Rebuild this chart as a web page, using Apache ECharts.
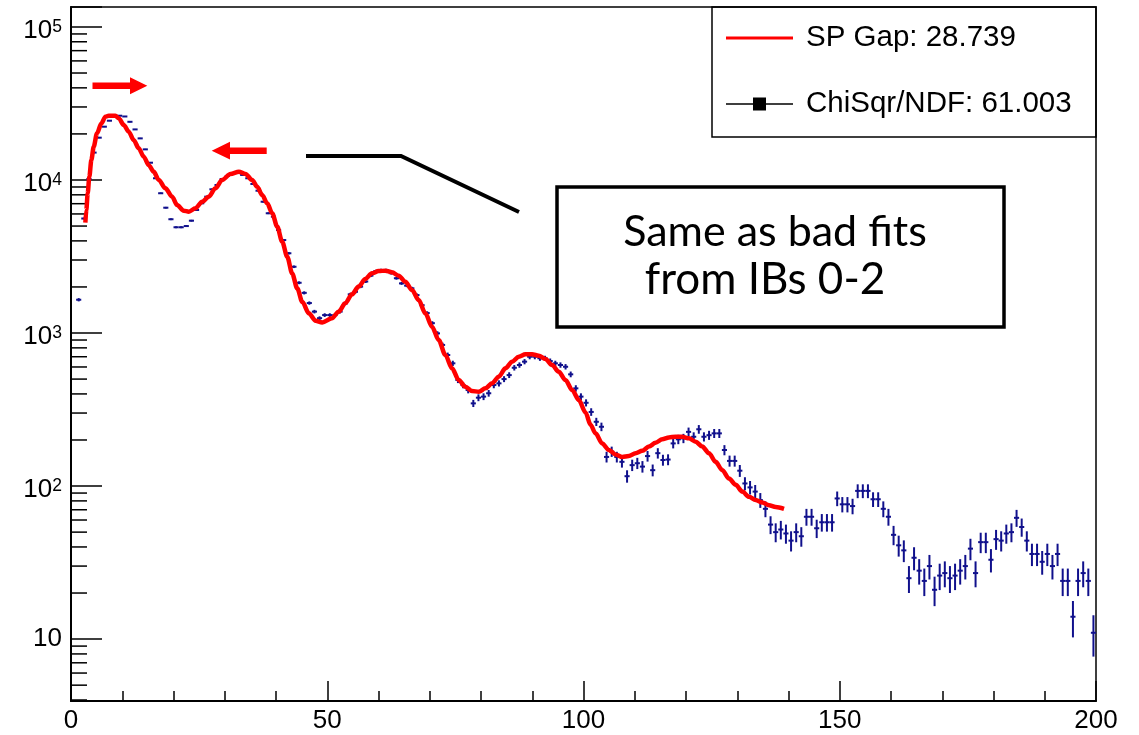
<!DOCTYPE html>
<html>
<head>
<meta charset="utf-8">
<script src="https://cdn.jsdelivr.net/npm/echarts@6/dist/echarts.min.js"></script>
<style>
  html, body { margin: 0; padding: 0; background: #fff; }
  #chart { width: 1139px; height: 735px; }
</style>
</head>
<body>
<div id="chart"></div>
<script>
// Histogram contents, one value per unit-wide bin starting at x = 0 (null = empty bin)
const binCounts = [
  null, 1650, 5600, 10150, 15100, 18900, 22300, 24400, 25800, 26300,
  26000, 24000, 21400, 18700, 15850, 12970, 10260, 8190, 6590, 5540,
  4910, 4910, 5000, 5420, 6370, 7040, 7780, 8690, 9270, 10150,
  10620, 11060, 11100, 10790, 10260, 9420, 8510, 7210, 6060, 5760,
  4710, 4050, 3320, 2710, 2130, 1830, 1570, 1380, 1250, 1310,
  1310, 1310, 1380, 1560, 1790, 1860, 2010, 2170, 2370, 2540,
  2580, 2580, 2460, 2280, 2110, 2040, 1960, 1770, 1520, 1350,
  1160, 995, 836, 718, 634, 493, 457, 424, 347, 378,
  384, 404, 457, 469, 500, 531, 593, 618, 650, 700,
  700, 684, 684, 656, 634, 618, 602, 537, 435, 384,
  350, 305, 263, 244, 155, 168, 155, 144, 116, 137,
  141, 134, 157, 127, 164, 148, 149, 190, 202, 205,
  226, 210, 235, 210, 215, 221, 221, 172, 146, 146,
  126, 104, 98, 92, 81, 71, 56, 50, 52, 49,
  44, 50, 47, 63, 63, 53, 58, 58, 58, 83,
  76, 76, 74, 93, 93, 93, 82, 82, 71, 63,
  48, 41, 38, 25, 34, 28, 24, 30, 21, 26,
  27, 25, 26, 28, 30, 39, 27, 43, 43, 33,
  45, 44, 49, 50, 62, 54, 44, 36, 36, 32,
  36, 30, 36, 24, 24, 14, 24, 27, 24, 11
];

// Fitted spectrum, sampled along x
const fitX = [
  2.80, 2.99, 3.26, 3.58, 3.97, 4.43, 5.08, 5.92, 6.71, 7.36,
  8.66, 9.31, 10.29, 11.26, 12.24, 13.22, 14.19, 15.17, 16.15, 17.12,
  18.42, 19.73, 20.70, 22.00, 22.98, 24.28, 25.59, 26.89, 28.19, 29.49,
  31.12, 32.75, 34.05, 35.35, 36.33, 37.30, 38.28, 39.26, 40.23, 41.21,
  42.19, 43.16, 44.14, 45.12, 46.42, 47.72, 49.02, 50.91, 52.21, 53.52,
  54.82, 56.12, 57.42, 58.72, 60.03, 61.33, 62.63, 63.93, 65.23, 66.54,
  67.84, 69.14, 70.44, 71.74, 73.05, 74.35, 75.65, 76.95, 78.26, 79.56,
  80.86, 82.16, 83.46, 84.77, 86.07, 87.37, 88.67, 89.97, 91.28, 92.58,
  93.88, 95.18, 96.48, 97.79, 99.09, 100.39, 101.37, 102.34, 103.65, 104.95,
  106.25, 107.55, 108.85, 110.16, 111.46, 112.76, 114.06, 115.36, 116.67, 117.97,
  119.27, 120.57, 121.88, 123.18, 124.48, 125.78, 127.08, 128.39, 129.69, 130.99,
  132.29, 133.59, 134.90, 136.20, 137.50, 139.13
];
const fitY = [
  5260, 6370, 8190, 10500, 13500, 16500, 20200, 23400, 25900, 26300,
  26300, 25300, 22900, 20700, 18200, 16100, 14200, 12500, 11300, 10000,
  8830, 7780, 6870, 6300, 6210, 6530, 7210, 7780, 8830, 10000,
  10940, 11330, 10940, 10000, 9040, 7980, 7040, 6060, 4960, 3950,
  3150, 2450, 1960, 1600, 1345, 1205, 1170, 1248, 1378, 1563,
  1790, 2010, 2255, 2455, 2540, 2555, 2495, 2370, 2165, 1910,
  1643, 1345, 1100, 900, 718, 588, 493, 446, 418, 413,
  435, 469, 518, 588, 650, 700, 726, 726, 711, 676,
  618, 558, 493, 424, 365, 303, 252, 221, 190, 172,
  161, 155, 157, 164, 170, 181, 192, 202, 208, 210,
  210, 205, 195, 181, 164, 144, 127, 112, 102, 92,
  85, 81, 78, 75, 73, 71
];

// Axis ranges and tick values
const xRange = [0, 200];
const yRange = [3.94, 135000];
const yMinorTicks = [
  4, 5, 6, 7, 8, 9,
  20, 30, 40, 50, 60, 70, 80, 90,
  200, 300, 400, 500, 600, 700, 800, 900,
  2000, 3000, 4000, 5000, 6000, 7000, 8000, 9000,
  20000, 30000, 40000, 50000, 60000, 70000, 80000, 90000
];

// Legend entries and annotation text
const fitName = 'SP Gap: 28.739';
const dataName = 'ChiSqr/NDF: 61.003';
const noteLines = ['Same as bad fits', 'from IBs 0-2'];

const histColor = '#10108c';
const fitColor = '#ff0000';
const axisFont = '"Liberation Sans", Arial, Helvetica, sans-serif';
const noteFont = 'Lato, "Open Sans", sans-serif';

const histData = [];
binCounts.forEach((v, i) => { if (v != null) histData.push([i, v]); });
const fitData = fitX.map((x, k) => [x, fitY[k]]);

const chart = echarts.init(document.getElementById('chart'), null, { renderer: 'canvas' });

function isDecade(v) {
  const l = Math.log10(v);
  return Math.abs(l - Math.round(l)) < 1e-6;
}

const option = {
  backgroundColor: '#ffffff',
  animation: false,
  textStyle: { fontFamily: axisFont },
  grid: {
    left: 71, right: 43, top: 7, bottom: 34,
    show: true, borderColor: '#000', borderWidth: 1.5
  },
  xAxis: {
    type: 'value',
    min: xRange[0], max: xRange[1], interval: 50,
    axisLine: { lineStyle: { color: '#000', width: 2 } },
    axisTick: { inside: true, length: 20, lineStyle: { color: '#000', width: 1.5 } },
    minorTick: { show: true, splitNumber: 5, length: 10, lineStyle: { color: '#000', width: 1.5 } },
    splitLine: { show: false },
    axisLabel: { color: '#000', fontSize: 26, fontFamily: axisFont, margin: 7 }
  },
  yAxis: {
    type: 'log', logBase: 10,
    min: yRange[0], max: yRange[1],
    axisLine: { show: true, lineStyle: { color: '#000', width: 2 } },
    axisTick: { inside: true, length: 31, lineStyle: { color: '#000', width: 1.5 } },
    splitLine: { show: false },
    axisLabel: {
      margin: 9,
      color: '#000',
      fontSize: 26,
      fontFamily: axisFont,
      formatter: function (v) {
        if (!isDecade(v)) return '';
        const e = Math.round(Math.log10(v));
        if (e === 1) return '{c|10}';
        return '{b|10}{s|' + e + '}';
      },
      rich: {
        c: { fontSize: 26, lineHeight: 26, fontFamily: axisFont, color: '#000' },
        b: { fontSize: 26, lineHeight: 26, verticalAlign: 'bottom', fontFamily: axisFont, color: '#000' },
        s: { fontSize: 17.5, lineHeight: 34, fontFamily: axisFont, color: '#000' }
      }
    }
  },
  legend: {
    orient: 'vertical',
    left: 726, top: 23, padding: 0,
    itemWidth: 67, itemHeight: 30, itemGap: 36,
    selectedMode: false,
    textStyle: { fontFamily: axisFont, fontSize: 29.5, color: '#000', padding: [0, 0, 0, 8] },
    data: [
      {
        name: fitName,
        icon: 'path://M0,0M67,30M0,13.5L67,13.5L67,16.5L0,16.5Z',
        itemStyle: { color: fitColor, borderWidth: 0 }
      },
      {
        name: dataName,
        icon: 'path://M0,0M67,30M0,14.2L27,14.2L27,8.5L40,8.5L40,14.2L67,14.2L67,15.8L40,15.8L40,21.5L27,21.5L27,15.8L0,15.8Z',
        itemStyle: { color: '#000', borderWidth: 0 }
      }
    ]
  },
  series: [
    {
      // minor ticks of the logarithmic y axis (2..9 per decade)
      type: 'custom',
      name: 'yMinor',
      silent: true,
      clip: false,
      data: yMinorTicks.map(v => [0, v]),
      renderItem: function (params, api) {
        const p = api.coord([api.value(0), api.value(1)]);
        return {
          type: 'line',
          shape: { x1: p[0], y1: p[1], x2: p[0] + 16, y2: p[1] },
          style: { stroke: '#000', lineWidth: 1.5 }
        };
      },
      z: 1
    },
    {
      type: 'custom',
      name: dataName,
      silent: true,
      data: histData,
      itemStyle: { color: histColor },
      renderItem: function (params, api) {
        const lo = api.value(0);
        const v = api.value(1);
        const err = Math.sqrt(v);
        const l = api.coord([lo, v]);
        const r = api.coord([lo + 1, v]);
        const t = api.coord([lo + 0.5, v + err]);
        const b = api.coord([lo + 0.5, Math.max(v - err, yRange[0])]);
        const st = { stroke: histColor, lineWidth: 2 };
        return {
          type: 'group',
          children: [
            { type: 'line', shape: { x1: l[0], y1: l[1], x2: r[0], y2: r[1] }, style: st },
            { type: 'line', shape: { x1: t[0], y1: t[1], x2: b[0], y2: b[1] }, style: st }
          ]
        };
      },
      z: 2
    },
    {
      type: 'line',
      name: fitName,
      data: fitData,
      showSymbol: false,
      symbol: 'none',
      smooth: 0.3,
      smoothMonotone: 'x',
      silent: true,
      lineStyle: { color: fitColor, width: 4.5 },
      itemStyle: { color: fitColor },
      z: 3
    }
  ],
  graphic: [
    // legend frame
    {
      type: 'rect', z: 20, silent: true,
      shape: { x: 712, y: 7, width: 384, height: 130 },
      style: { fill: 'none', stroke: '#000', lineWidth: 1.5 }
    },
    // red shift arrows
    {
      type: 'polygon', z: 20, silent: true,
      shape: { points: [[92.5, 82.5], [130, 82.5], [130, 77.3], [147.3, 85.7], [130, 94.3], [130, 89], [92.5, 89]] },
      style: { fill: fitColor }
    },
    {
      type: 'polygon', z: 20, silent: true,
      shape: { points: [[266.7, 147.5], [230, 147.5], [230, 141.7], [211.7, 150.7], [230, 159.5], [230, 154], [266.7, 154]] },
      style: { fill: fitColor }
    },
    // callout leader
    {
      type: 'polyline', z: 20, silent: true,
      shape: { points: [[306, 156], [401, 156], [519, 212]] },
      style: { stroke: '#000', lineWidth: 4, fill: 'none' }
    },
    // callout box
    {
      type: 'rect', z: 20, silent: true,
      shape: { x: 557, y: 187, width: 447, height: 140 },
      style: { fill: '#fff', stroke: '#000', lineWidth: 3.5 }
    },
    {
      type: 'text', z: 21, silent: true,
      x: 775, y: 232,
      style: {
        text: noteLines[0], align: 'center', verticalAlign: 'middle',
        font: '43px ' + noteFont, fill: '#000'
      }
    },
    {
      type: 'text', z: 21, silent: true,
      x: 765, y: 280,
      style: {
        text: noteLines[1], align: 'center', verticalAlign: 'middle',
        font: '44px ' + noteFont, fill: '#000'
      }
    }
  ]
};

chart.setOption(option);
</script>
</body>
</html>
